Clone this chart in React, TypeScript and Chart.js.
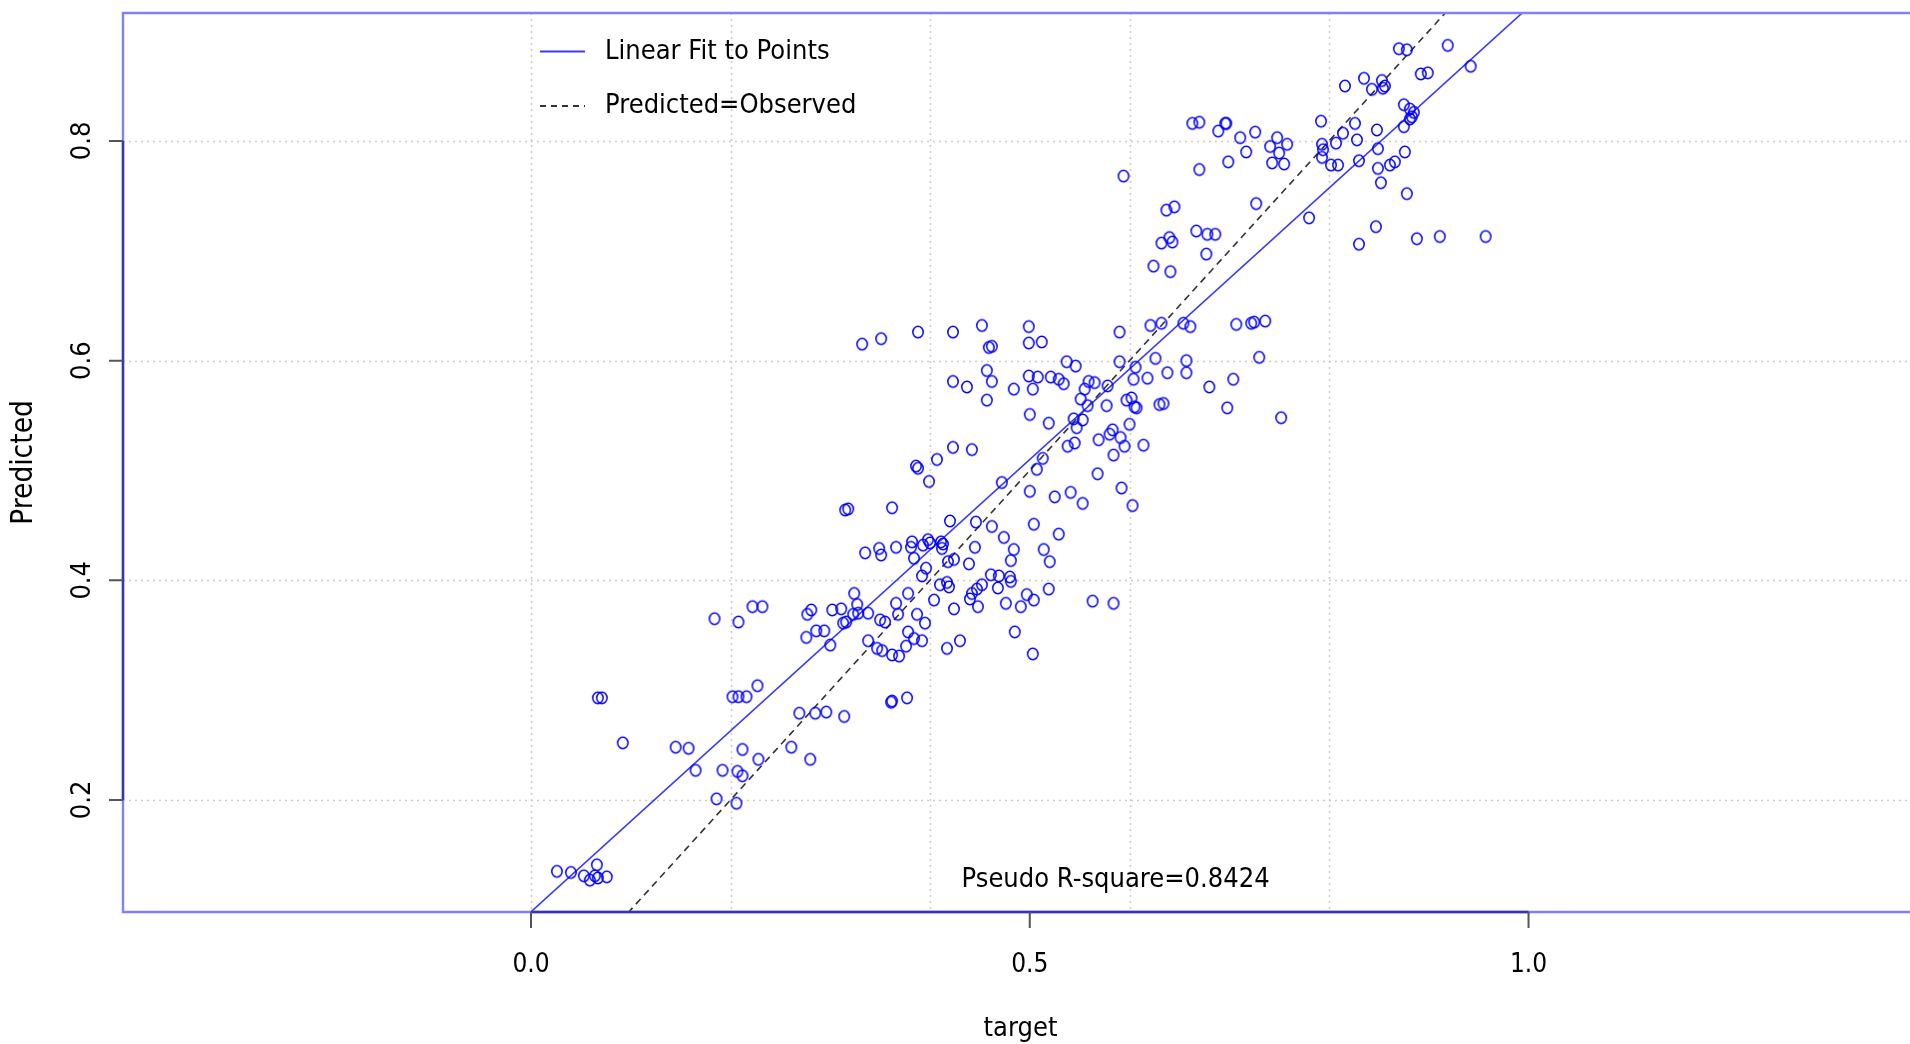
import React, { useEffect, useRef } from "react";
import { Chart, registerables } from "chart.js";

Chart.register(...registerables);

// ---------- data ----------
const targetValues: number[] = [
  0.026, 0.040, 0.053, 0.059, 0.066, 0.064, 0.067, 0.076,
  0.067, 0.071, 0.092, 0.145, 0.158, 0.165, 0.184, 0.208, 0.222, 0.232,
  0.202, 0.208, 0.216, 0.227, 0.192, 0.207, 0.212, 0.186, 0.206, 0.212,
  0.228, 0.261, 0.280, 0.269, 0.285, 0.296, 0.314, 0.276, 0.286, 0.294,
  0.300, 0.277, 0.281, 0.302, 0.311, 0.324, 0.327, 0.313, 0.316, 0.323,
  0.328, 0.338, 0.338,
  0.332, 0.315, 0.318, 0.335,
  0.351, 0.388, 0.423, 0.452, 0.499, 0.499, 0.512, 0.459, 0.462, 0.590, 0.621, 0.632, 0.654,
  0.457, 0.423, 0.437, 0.462, 0.457, 0.484, 0.499, 0.508, 0.503, 0.521,
  0.529, 0.534, 0.537, 0.546, 0.559, 0.565, 0.555, 0.551, 0.578, 0.558,
  0.577, 0.590, 0.604, 0.606, 0.618, 0.626, 0.638, 0.657, 0.657, 0.597,
  0.602, 0.605, 0.607, 0.630, 0.634,
  0.500, 0.519, 0.544, 0.553, 0.547, 0.545, 0.538, 0.569, 0.580, 0.583,
  0.591, 0.595, 0.600, 0.614, 0.584, 0.513, 0.507, 0.568, 0.423, 0.442,
  0.407, 0.386, 0.388, 0.399, 0.362, 0.472, 0.500, 0.525, 0.541, 0.553,
  0.592, 0.603,
  0.420, 0.446, 0.462, 0.474, 0.504, 0.529, 0.484, 0.514, 0.481, 0.520,
  0.445, 0.439, 0.349, 0.351, 0.366, 0.382, 0.381, 0.384, 0.393, 0.398,
  0.400, 0.411, 0.413, 0.412, 0.418, 0.424, 0.396, 0.392,
  0.410, 0.417, 0.419, 0.461, 0.469, 0.480, 0.481, 0.468, 0.452, 0.447,
  0.442, 0.440, 0.448, 0.424, 0.404, 0.378, 0.366, 0.368, 0.350, 0.355,
  0.387, 0.395, 0.497, 0.504, 0.476, 0.491, 0.519, 0.563, 0.584, 0.485,
  0.503,
  0.347, 0.352, 0.362, 0.369, 0.376, 0.378, 0.384, 0.392, 0.417, 0.430, 0.362, 0.377, 0.361,
  0.594, 0.663, 0.670, 0.696, 0.697, 0.689, 0.711, 0.726, 0.717, 0.699,
  0.670, 0.741, 0.748, 0.758, 0.750, 0.743, 0.755, 0.792, 0.793, 0.794,
  0.793, 0.802, 0.809, 0.807, 0.814, 0.826, 0.828, 0.830, 0.848, 0.849,
  0.849, 0.852, 0.861, 0.866, 0.876, 0.878, 0.780, 0.847, 0.830, 0.888,
  0.911, 0.957, 0.816, 0.835, 0.843, 0.853, 0.854, 0.856, 0.870, 0.878,
  0.919, 0.892, 0.899, 0.942, 0.875, 0.881, 0.885, 0.883, 0.881, 0.875,
  0.637, 0.645, 0.632, 0.640, 0.643, 0.624, 0.641, 0.667, 0.678, 0.686,
  0.677, 0.727,
  0.707, 0.722, 0.725, 0.736, 0.680, 0.704, 0.730, 0.698, 0.752, 0.661,
];

const predictedValues: number[] = [
  0.135, 0.134, 0.131, 0.127, 0.141, 0.131, 0.129, 0.130,
  0.293, 0.293, 0.252, 0.248, 0.247, 0.227, 0.365, 0.362, 0.376, 0.376,
  0.294, 0.294, 0.294, 0.304, 0.227, 0.226, 0.222, 0.201, 0.197, 0.246,
  0.237, 0.248, 0.237, 0.279, 0.279, 0.280, 0.276, 0.348, 0.354, 0.354,
  0.341, 0.369, 0.373, 0.373, 0.374, 0.388, 0.378, 0.361, 0.362, 0.369,
  0.370, 0.370, 0.345,
  0.615, 0.464, 0.465, 0.425,
  0.620, 0.626, 0.626, 0.632, 0.631, 0.616, 0.617, 0.612, 0.613, 0.626, 0.632, 0.634, 0.634,
  0.591, 0.581, 0.576, 0.581, 0.564, 0.574, 0.586, 0.585, 0.574, 0.585,
  0.583, 0.579, 0.599, 0.595, 0.581, 0.580, 0.574, 0.565, 0.577, 0.559,
  0.559, 0.599, 0.583, 0.594, 0.584, 0.602, 0.589, 0.600, 0.589, 0.564,
  0.566, 0.558, 0.557, 0.560, 0.561,
  0.551, 0.543, 0.547, 0.546, 0.539, 0.525, 0.522, 0.528, 0.533, 0.537,
  0.530, 0.522, 0.542, 0.523, 0.514, 0.511, 0.501, 0.497, 0.521, 0.519,
  0.510, 0.504, 0.502, 0.490, 0.466, 0.489, 0.481, 0.476, 0.480, 0.470,
  0.484, 0.468,
  0.454, 0.453, 0.449, 0.439, 0.451, 0.442, 0.428, 0.428, 0.418, 0.417,
  0.430, 0.415, 0.429, 0.423, 0.430, 0.435, 0.430, 0.420, 0.432, 0.437,
  0.434, 0.435, 0.433, 0.429, 0.417, 0.419, 0.411, 0.404,
  0.396, 0.398, 0.394, 0.405, 0.404, 0.403, 0.399, 0.393, 0.396, 0.392,
  0.388, 0.383, 0.376, 0.374, 0.382, 0.388, 0.379, 0.369, 0.364, 0.362,
  0.369, 0.361, 0.387, 0.382, 0.379, 0.376, 0.392, 0.381, 0.379, 0.353,
  0.333,
  0.338, 0.336, 0.332, 0.331, 0.340, 0.353, 0.347, 0.345, 0.338, 0.345, 0.290, 0.293, 0.289,
  0.768, 0.816, 0.817, 0.816, 0.816, 0.809, 0.803, 0.808, 0.790, 0.781,
  0.774, 0.795, 0.803, 0.797, 0.789, 0.780, 0.779, 0.818, 0.797, 0.792,
  0.785, 0.778, 0.778, 0.798, 0.807, 0.816, 0.801, 0.782, 0.810, 0.793,
  0.775, 0.762, 0.778, 0.781, 0.790, 0.752, 0.730, 0.722, 0.706, 0.711,
  0.713, 0.713, 0.850, 0.857, 0.847, 0.855, 0.848, 0.850, 0.884, 0.883,
  0.887, 0.861, 0.862, 0.868, 0.833, 0.829, 0.826, 0.822, 0.820, 0.813,
  0.737, 0.740, 0.707, 0.712, 0.708, 0.686, 0.681, 0.718, 0.715, 0.715,
  0.697, 0.743,
  0.633, 0.634, 0.635, 0.636, 0.576, 0.583, 0.603, 0.557, 0.548, 0.631,
];

// linear fit line, read at two x positions (clipped to the plot box)
const fitLineX: number[] = [-0.05, 1.05];
const fitLineY: number[] = [0.057, 0.963];
// predicted = observed reference line
const identityX: number[] = [0, 1];
const identityY: number[] = [0, 1];

const xTickValues: number[] = [0, 0.5, 1.0];
const xTickLabels: string[] = ["0.0", "0.5", "1.0"];
const yTickValues: number[] = [0.2, 0.4, 0.6, 0.8];
const yTickLabels: string[] = ["0.2", "0.4", "0.6", "0.8"];
const xGridValues: number[] = [0, 0.2, 0.4, 0.6, 0.8];
const yGridValues: number[] = [0.2, 0.4, 0.6, 0.8];
const xAxisSegment: number[] = [0, 1.0];
const yAxisSegment: number[] = [0.2, 0.8];

const legendLabels: string[] = ["Linear Fit to Points", "Predicted=Observed"];
const xAxisTitle = "target";
const yAxisTitle = "Predicted";
const annotationText = "Pseudo R-square=0.8424";
const annotationAt: number[] = [0.586, 0.127];

const X_RANGE: number[] = [-0.409, 1.3824];
const Y_RANGE: number[] = [0.098, 0.9165];

// ---------- styling ----------
const FONT = '"DejaVu Sans", "Noto Sans", sans-serif';
const SQUEEZE = 0.9;
const POINT_COLOR = "#0000ff";
const FIT_COLOR = "#3a3aff";
const DASH_COLOR = "#333333";

function drawText(
  ctx: CanvasRenderingContext2D,
  text: string,
  x: number,
  y: number,
  size: number,
  align: CanvasTextAlign,
  rotate = 0
) {
  ctx.save();
  ctx.translate(x, y);
  if (rotate) ctx.rotate(rotate);
  ctx.scale(SQUEEZE, 1);
  ctx.font = `${size}px ${FONT}`;
  ctx.textAlign = align;
  ctx.textBaseline = "middle";
  ctx.fillStyle = "#000000";
  ctx.fillText(text, 0, 0);
  ctx.restore();
}

const framePlugin = {
  id: "rFrame",
  beforeDatasetsDraw(chart: any) {
    const { ctx, chartArea: a, scales } = chart;
    const xs = scales.x;
    const ys = scales.y;
    ctx.save();
    ctx.strokeStyle = "#cccccc";
    ctx.lineWidth = 1.5;
    ctx.setLineDash([2, 4]);
    for (const v of xGridValues) {
      const px = Math.round(xs.getPixelForValue(v)) + 0.5;
      ctx.beginPath();
      ctx.moveTo(px, a.top);
      ctx.lineTo(px, a.bottom);
      ctx.stroke();
    }
    for (const v of yGridValues) {
      const py = Math.round(ys.getPixelForValue(v)) + 0.5;
      ctx.beginPath();
      ctx.moveTo(a.left, py);
      ctx.lineTo(a.right, py);
      ctx.stroke();
    }
    ctx.restore();
  },
  afterDatasetsDraw(chart: any) {
    const { ctx, chartArea: a, scales } = chart;
    const xs = scales.x;
    const ys = scales.y;
    ctx.save();
    // plot box (open on the right: it lies beyond the picture)
    ctx.strokeStyle = "#8080ff";
    ctx.lineWidth = 2.4;
    ctx.beginPath();
    ctx.moveTo(a.right + 10, a.top);
    ctx.lineTo(a.left, a.top);
    ctx.lineTo(a.left, a.bottom);
    ctx.lineTo(a.right + 10, a.bottom);
    ctx.stroke();
    // axis lines
    ctx.strokeStyle = "#3434b4";
    ctx.lineWidth = 2.4;
    ctx.beginPath();
    ctx.moveTo(a.left, ys.getPixelForValue(yAxisSegment[0]));
    ctx.lineTo(a.left, ys.getPixelForValue(yAxisSegment[1]));
    ctx.moveTo(xs.getPixelForValue(xAxisSegment[0]), a.bottom);
    ctx.lineTo(xs.getPixelForValue(xAxisSegment[1]), a.bottom);
    ctx.stroke();
    // ticks
    ctx.strokeStyle = "#555555";
    ctx.lineWidth = 2;
    ctx.beginPath();
    for (const v of yTickValues) {
      const py = ys.getPixelForValue(v);
      ctx.moveTo(a.left - 14, py);
      ctx.lineTo(a.left, py);
    }
    for (const v of xTickValues) {
      const px = xs.getPixelForValue(v);
      ctx.moveTo(px, a.bottom);
      ctx.lineTo(px, a.bottom + 16);
    }
    ctx.stroke();
    // tick labels
    xTickValues.forEach((v, i) => {
      drawText(ctx, xTickLabels[i], xs.getPixelForValue(v), a.bottom + 53.5, 26, "center");
    });
    yTickValues.forEach((v, i) => {
      drawText(ctx, yTickLabels[i], a.left - 40, ys.getPixelForValue(v), 27, "center", -Math.PI / 2);
    });
    // axis titles
    drawText(ctx, xAxisTitle, (a.left + a.right) / 2 + 4, a.bottom + 116.5, 27, "center");
    drawText(ctx, yAxisTitle, a.left - 98.5, (a.top + a.bottom) / 2, 29.5, "center", -Math.PI / 2);
    // annotation
    drawText(
      ctx,
      annotationText,
      xs.getPixelForValue(annotationAt[0]),
      ys.getPixelForValue(annotationAt[1]),
      27,
      "center"
    );
    // legend
    const lx0 = a.left + 417;
    const lx1 = a.left + 462;
    const tx = a.left + 482;
    const ly1 = a.top + 38.5;
    const ly2 = a.top + 93;
    ctx.lineWidth = 1.8;
    ctx.setLineDash([]);
    ctx.strokeStyle = FIT_COLOR;
    ctx.beginPath();
    ctx.moveTo(lx0, ly1);
    ctx.lineTo(lx1, ly1);
    ctx.stroke();
    ctx.strokeStyle = DASH_COLOR;
    ctx.setLineDash([6, 5]);
    ctx.beginPath();
    ctx.moveTo(lx0, ly2);
    ctx.lineTo(lx1, ly2);
    ctx.stroke();
    ctx.setLineDash([]);
    drawText(ctx, legendLabels[0], tx, ly1, 27, "left");
    drawText(ctx, legendLabels[1], tx, ly2, 27, "left");
    ctx.restore();
  },
};

function makeMarker(): HTMLCanvasElement {
  const c = document.createElement("canvas");
  c.width = 16;
  c.height = 18;
  const g = c.getContext("2d")!;
  g.strokeStyle = POINT_COLOR;
  g.lineWidth = 1.5;
  g.beginPath();
  g.ellipse(8, 9, 5.2, 5.8, 0, 0, Math.PI * 2);
  g.stroke();
  return c;
}

export default function App() {
  const canvasRef = useRef<HTMLCanvasElement | null>(null);

  useEffect(() => {
    const canvas = canvasRef.current;
    if (!canvas) return;
    const marker = makeMarker();
    const points = targetValues.map((x, i) => ({ x, y: predictedValues[i] }));
    const fitPts = fitLineX.map((x, i) => ({ x, y: fitLineY[i] }));
    const idPts = identityX.map((x, i) => ({ x, y: identityY[i] }));

    const chart = new Chart(canvas, {
      type: "scatter",
      data: {
        datasets: [
          {
            type: "line",
            label: legendLabels[1],
            data: idPts,
            borderColor: DASH_COLOR,
            borderWidth: 1.6,
            borderDash: [7, 5],
            pointRadius: 0,
            fill: false,
            order: 2,
          } as any,
          {
            type: "line",
            label: legendLabels[0],
            data: fitPts,
            borderColor: FIT_COLOR,
            borderWidth: 1.6,
            pointRadius: 0,
            fill: false,
            order: 1,
          } as any,
          {
            type: "scatter",
            label: "points",
            data: points,
            pointStyle: marker as any,
            pointRadius: 6,
            borderColor: POINT_COLOR,
            backgroundColor: "rgba(0,0,0,0)",
            order: 0,
          } as any,
        ],
      },
      options: {
        responsive: false,
        maintainAspectRatio: false,
        animation: false,
        devicePixelRatio: 1,
        layout: { autoPadding: false, padding: { left: 123, top: 13, right: 0, bottom: 132 } },
        scales: {
          x: { type: "linear", min: X_RANGE[0], max: X_RANGE[1], display: false },
          y: { type: "linear", min: Y_RANGE[0], max: Y_RANGE[1], display: false },
        },
        plugins: {
          legend: { display: false },
          tooltip: { enabled: false },
        },
        events: [],
      },
      plugins: [framePlugin],
    });
    return () => chart.destroy();
  }, []);

  return (
    <div
      style={{
        position: "fixed",
        left: 0,
        top: 0,
        width: 1910,
        height: 1044,
        background: "#ffffff",
        overflow: "hidden",
      }}
    >
      <canvas ref={canvasRef} width={1910} height={1044} style={{ display: "block" }} />
    </div>
  );
}
